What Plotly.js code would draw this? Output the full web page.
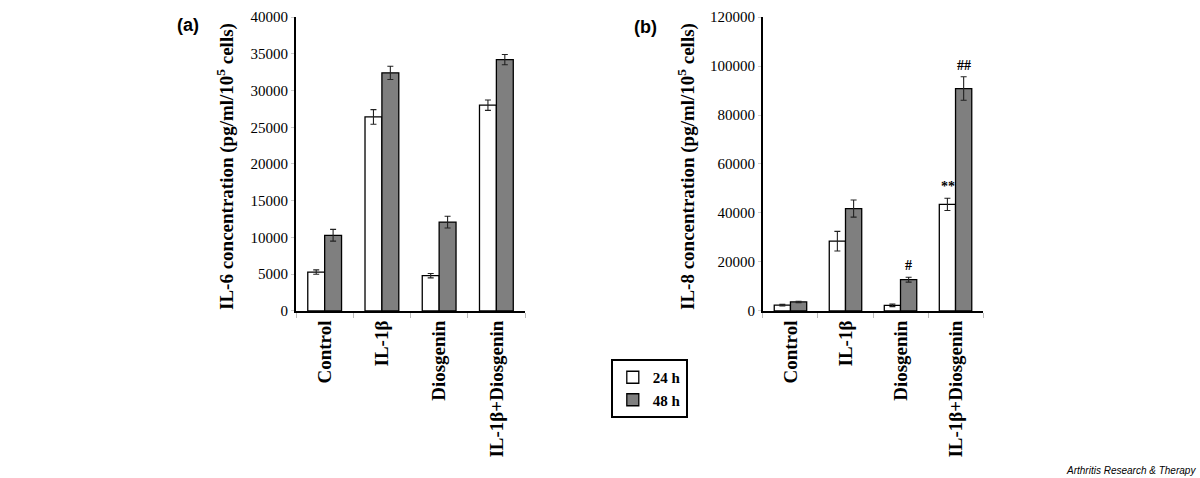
<!DOCTYPE html>
<html>
<head>
<meta charset="utf-8">
<script src="https://cdn.plot.ly/plotly-3.0.1.min.js"></script>
<style>
	html, body { margin: 0; padding: 0; background: #fff; }
	#chart { width: 1200px; height: 478px; }
</style>
</head>
<body>
<div id="chart"></div>
<script>
const categories = ["Control", "IL-1β", "Diosgenin", "IL-1β+Diosgenin"];

// panel (a) IL-6
const il6_24h = [5300, 26400, 4800, 28000];
const il6_24hErr = [300, 1000, 300, 700];
const il6_48h = [10300, 32400, 12100, 34200];
const il6_48hErr = [800, 900, 800, 700];

// panel (b) IL-8
const il8_24h = [2400, 28500, 2300, 43500];
const il8_24hErr = [300, 4000, 500, 2500];
const il8_48h = [3700, 41800, 12800, 90800];
const il8_48hErr = [300, 3500, 1000, 4800];

// significance marks on panel (b): [category, series, text]
const marks = [
	["IL-1β+Diosgenin", "24h", "**"],
	["Diosgenin", "48h", "#"],
	["IL-1β+Diosgenin", "48h", "##"]
];

const serif = "Liberation Serif, Times New Roman, serif";
const sans = "Liberation Sans, Arial, sans-serif";
const white = "#ffffff";
const grey = "#7f7f7f";

const makeBar = (y, err, color, name, xa, ya, showlegend) => ({
	x: categories,
	y: y,
	type: "bar",
	name: name,
	xaxis: xa,
	yaxis: ya,
	showlegend: showlegend,
	marker: { color: color, line: { color: "#000", width: 1.3 } },
	error_y: { type: "data", array: err, visible: true, color: "#222", thickness: 1.1, width: 3 }
});

const traces = [
	makeBar(il6_24h, il6_24hErr, white, "24 h", "x", "y", true),
	makeBar(il6_48h, il6_48hErr, grey, "48 h", "x", "y", true),
	makeBar(il8_24h, il8_24hErr, white, "24 h", "x2", "y2", false),
	makeBar(il8_48h, il8_48hErr, grey, "48 h", "x2", "y2", false)
];

const xAxisStyle = (domain, anchor) => ({
	domain: domain,
	anchor: anchor,
	type: "category",
	tickangle: -90,
	tickson: "boundaries",
	ticks: "outside",
	ticklen: 5,
	tickcolor: "#bbb",
	showline: true,
	linecolor: "#000",
	linewidth: 2,
	showgrid: false,
	tickfont: { family: serif, size: 19, color: "#000", weight: "bold" },
	fixedrange: true
});

const yAxisStyle = (domain, anchor, max, dtick) => ({
	domain: domain,
	anchor: anchor,
	range: [0, max],
	dtick: dtick,
	tickformat: "d",
	ticks: "outside",
	ticklen: 3,
	tickcolor: "#ccc",
	showline: true,
	linecolor: "#000",
	linewidth: 2,
	showgrid: false,
	zeroline: false,
	tickfont: { family: serif, size: 15, color: "#000" },
	fixedrange: true
});

const seriesShift = { "24h": -8, "48h": 8 };
const markAnnotations = marks.map(([cat, series, text]) => {
	const i = categories.indexOf(cat);
	const top = series === "24h" ? il8_24h[i] + il8_24hErr[i] : il8_48h[i] + il8_48hErr[i];
	return {
		xref: "x2", yref: "y2",
		x: cat, y: top,
		xshift: seriesShift[series],
		yanchor: "bottom", yshift: 2,
		text: text, showarrow: false,
		font: { family: serif, size: 14, color: "#000", weight: "bold" }
	};
});

const yDomain = [0.3494, 0.9644];

const layout = {
	width: 1200,
	height: 478,
	margin: { l: 0, r: 0, t: 0, b: 0 },
	paper_bgcolor: "#fff",
	plot_bgcolor: "#fff",
	barmode: "group",
	bargap: 0.41,
	bargroupgap: 0,
	xaxis: xAxisStyle([0.2467, 0.4375], "y"),
	yaxis: yAxisStyle(yDomain, "x", 40000, 5000),
	xaxis2: xAxisStyle([0.6358, 0.8192], "y2"),
	yaxis2: yAxisStyle(yDomain, "x2", 120000, 20000),
	legend: {
		x: 0.509, y: 0.249,
		xanchor: "left", yanchor: "top",
		bordercolor: "#000", borderwidth: 2,
		bgcolor: "#fff",
		itemwidth: 30,
		tracegroupgap: 0,
		font: { family: serif, size: 15, color: "#000", weight: "bold" }
	},
	annotations: [
		{
			xref: "paper", yref: "paper", x: 225 / 1200, y: 1 - 167 / 478,
			xanchor: "center", yanchor: "middle",
			text: "IL-6 concentration (pg/ml/10<sup>5</sup> cells)",
			textangle: -90, showarrow: false,
			font: { family: serif, size: 19, color: "#000", weight: "bold" }
		},
		{
			xref: "paper", yref: "paper", x: 686 / 1200, y: 1 - 167 / 478,
			xanchor: "center", yanchor: "middle",
			text: "IL-8 concentration (pg/ml/10<sup>5</sup> cells)",
			textangle: -90, showarrow: false,
			font: { family: serif, size: 19, color: "#000", weight: "bold" }
		},
		{
			xref: "paper", yref: "paper", x: 188 / 1200, y: 1 - 25 / 478,
			xanchor: "center", yanchor: "middle",
			text: "(a)", showarrow: false,
			font: { family: sans, size: 18, color: "#000", weight: "bold" }
		},
		{
			xref: "paper", yref: "paper", x: 645 / 1200, y: 1 - 27 / 478,
			xanchor: "center", yanchor: "middle",
			text: "(b)", showarrow: false,
			font: { family: sans, size: 18, color: "#000", weight: "bold" }
		},
		{
			xref: "paper", yref: "paper", x: 1198 / 1200, y: 1 - 470 / 478,
			xanchor: "right", yanchor: "middle",
			text: "<i>Arthritis Research &amp; Therapy</i>", showarrow: false,
			font: { family: sans, size: 10, color: "#000" }
		},
		...markAnnotations
	]
};

Plotly.newPlot("chart", traces, layout, { displayModeBar: false, staticPlot: true });
</script>
</body>
</html>
